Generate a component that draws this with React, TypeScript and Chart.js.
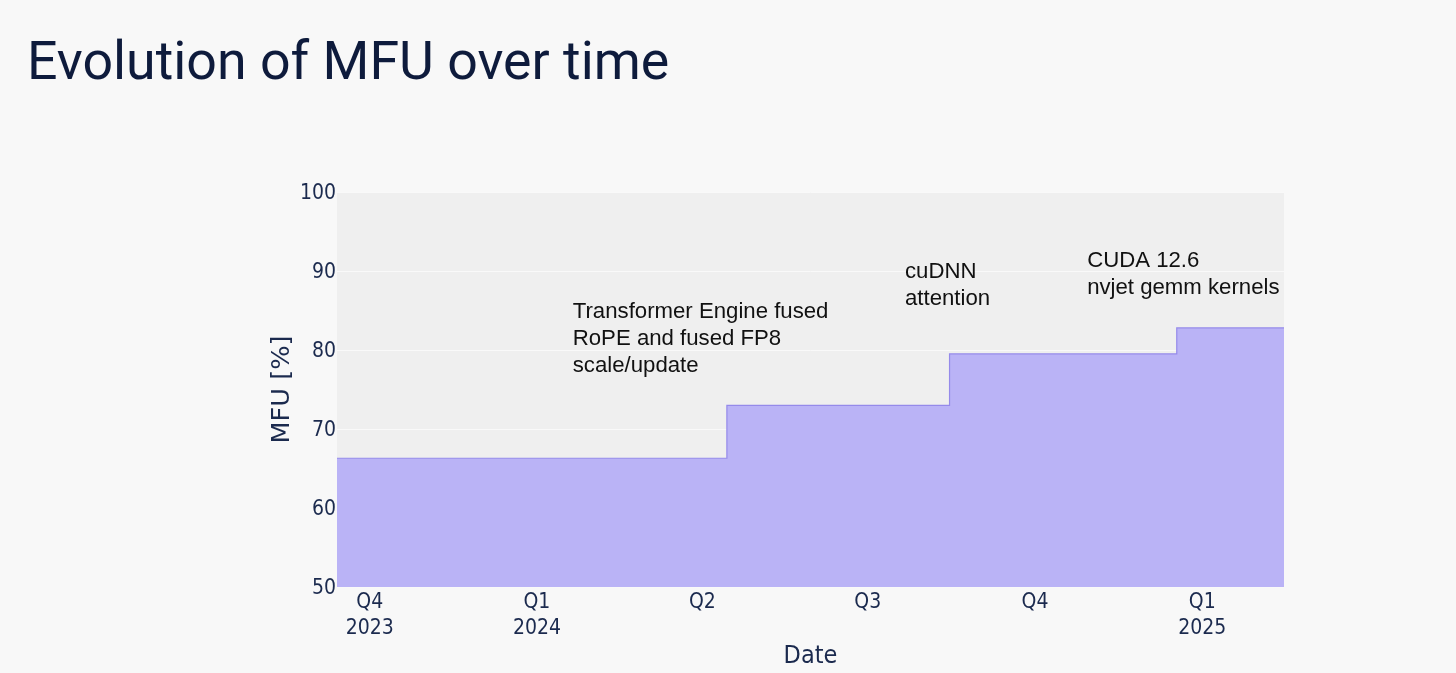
import React, { useEffect, useRef } from "react";
import { Chart, registerables } from "chart.js";

Chart.register(...registerables);

// Days counted from 2023-10-01
const stepDays = [-18, 196.5, 319, 444, 503];
const mfuValues = [66.3, 73.0, 79.5, 82.8, 82.8];

const quarterTickDays = [0, 92, 183, 274, 366, 458];
const quarterTickLabels = [["Q4", "2023"], ["Q1", "2024"], ["Q2"], ["Q3"], ["Q4"], ["Q1", "2025"]];

const yTicks = [50, 60, 70, 80, 90, 100];

const annotationTexts = [
  ["Transformer Engine fused", "RoPE and fused FP8", "scale/update"],
  ["cuDNN", "attention"],
  ["CUDA 12.6", "nvjet gemm kernels"],
];
const annotationDays = [111.7, 294.5, 394.7];
const annotationValues = [84.05, 89.1, 90.54];

const NAVY = "#1b2a4e";
const PAGE_BG = "#f8f8f8";
const PLOT_BG = "#efefef";
const AXIS_FONT = "'DejaVu Sans Condensed', 'DejaVu Sans', sans-serif";

export default function App() {
  const canvasRef = useRef<HTMLCanvasElement | null>(null);

  useEffect(() => {
    const canvas = canvasRef.current;
    if (!canvas) return;

    const plotBg = {
      id: "plotBg",
      beforeDraw(chart: any) {
        const { ctx, chartArea } = chart;
        ctx.save();
        ctx.fillStyle = PLOT_BG;
        ctx.fillRect(chartArea.left, chartArea.top, chartArea.right - chartArea.left, chartArea.bottom - chartArea.top);
        ctx.restore();
      },
    };

    const notes = {
      id: "notes",
      afterDatasetsDraw(chart: any) {
        const { ctx, scales } = chart;
        ctx.save();
        ctx.fillStyle = "#111111";
        ctx.font = "22.2px 'Liberation Sans', Arial, sans-serif";
        ctx.textAlign = "left";
        ctx.textBaseline = "alphabetic";
        annotationTexts.forEach((lines, i) => {
          const x = scales.x.getPixelForValue(annotationDays[i]);
          const y = scales.y.getPixelForValue(annotationValues[i]);
          lines.forEach((line, j) => ctx.fillText(line, x, y + j * 27));
        });
        ctx.restore();
      },
    };

    const chart = new Chart(canvas, {
      type: "line",
      data: {
        datasets: [
          {
            data: stepDays.map((d, i) => ({ x: d, y: mfuValues[i] })),
            stepped: true,
            fill: "start",
            backgroundColor: "#bab3f6",
            borderColor: "#958aea",
            borderWidth: 1.2,
            pointRadius: 0,
          },
        ],
      },
      options: {
        animation: false,
        responsive: true,
        maintainAspectRatio: false,
        layout: { padding: { left: 257, right: 172, top: 192, bottom: 0 } },
        plugins: { legend: { display: false }, tooltip: { enabled: false } },
        scales: {
          x: {
            type: "linear",
            min: stepDays[0],
            max: stepDays[stepDays.length - 1],
            afterBuildTicks: (scale: any) => {
              scale.ticks = quarterTickDays.map((v) => ({ value: v }));
            },
            afterFit: (scale: any) => {
              scale.height = 86;
            },
            grid: { display: false, drawTicks: false },
            border: { display: false },
            ticks: {
              autoSkip: false,
              maxRotation: 0,
              padding: 2,
              color: NAVY,
              font: { family: AXIS_FONT, size: 21, lineHeight: 1.26 },
              callback: (value: any) => {
                const idx = quarterTickDays.indexOf(Number(value));
                return idx >= 0 ? quarterTickLabels[idx] : "";
              },
            },
            title: {
              display: true,
              text: "Date",
              color: NAVY,
              font: { family: AXIS_FONT, size: 25 },
              padding: { top: 0, bottom: 2 },
            },
          },
          y: {
            min: 50,
            max: 100,
            afterBuildTicks: (scale: any) => {
              scale.ticks = yTicks.map((v) => ({ value: v }));
            },
            afterFit: (scale: any) => {
              scale.width = 80;
            },
            grid: { color: "#f9f9f9", lineWidth: 1, drawTicks: false },
            border: { display: false },
            ticks: {
              padding: 1,
              labelOffset: 2,
              color: NAVY,
              font: { family: AXIS_FONT, size: 21 },
            },
            title: {
              display: true,
              text: "MFU [%]",
              color: NAVY,
              font: { family: "'DejaVu Sans', sans-serif", size: 25.6 },
              padding: { top: 10, bottom: 0 },
            },
          },
        },
      },
      plugins: [plotBg, notes],
    });

    return () => chart.destroy();
  }, []);

  return (
    <div
      style={{
        position: "absolute",
        left: 0,
        top: 0,
        width: 1456,
        height: 673,
        background: PAGE_BG,
        overflow: "hidden",
      }}
    >
      <div
        style={{
          position: "absolute",
          left: 27,
          top: 35,
          fontFamily: "Roboto, sans-serif",
          fontSize: 53.7,
          lineHeight: "52px",
          color: "#0e1b3c",
          whiteSpace: "nowrap",
        }}
      >
        Evolution of MFU over time
      </div>
      <div style={{ position: "absolute", left: 0, top: 0, width: 1456, height: 673 }}>
        <canvas ref={canvasRef} />
      </div>
    </div>
  );
}
